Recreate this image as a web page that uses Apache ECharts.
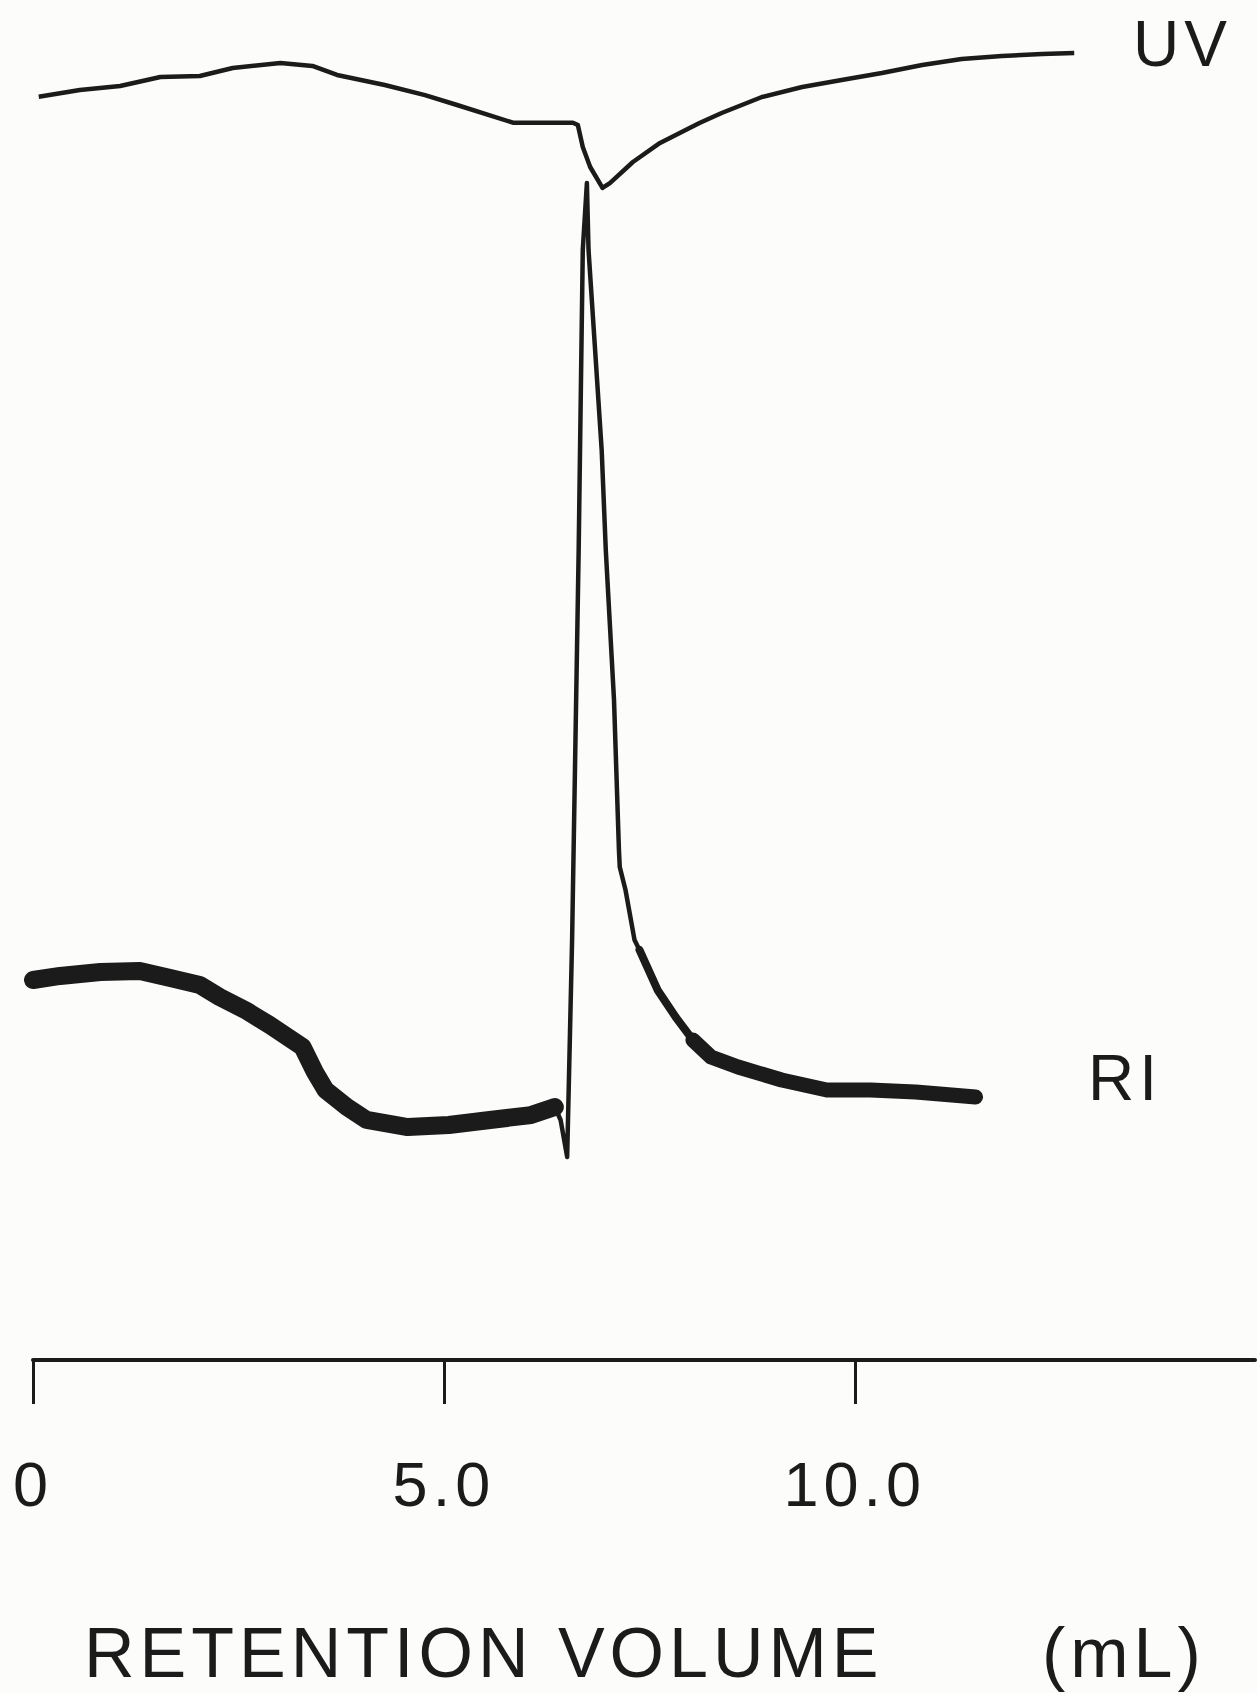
<!DOCTYPE html>
<html>
<head>
<meta charset="utf-8">
<script src="https://cdn.jsdelivr.net/npm/echarts@6/dist/echarts.min.js"></script>
<style>
  html, body { margin: 0; padding: 0; background: #fcfcfa; }
  #main { width: 1257px; height: 1693px; }
  #main text { letter-spacing: 5px; }
</style>
</head>
<body>
<div id="main"></div>
<script>
// retention volume (mL) vs. detector response (arbitrary units, traces offset)
var uvData = [
    [0.07, 92.89], [0.57, 93.38], [1.06, 93.68], [1.55, 94.34], [2.03, 94.41],
    [2.43, 95.00], [3.01, 95.37], [3.40, 95.15], [3.70, 94.49], [4.28, 93.75],
    [4.77, 93.01], [5.16, 92.28], [5.55, 91.54], [5.84, 90.98], [6.57, 90.98],
    [6.63, 90.81], [6.69, 89.19], [6.78, 87.72], [6.93, 86.18], [7.02, 86.54],
    [7.30, 88.09], [7.63, 89.49], [8.11, 90.96], [8.38, 91.69], [8.87, 92.87],
    [9.36, 93.60], [9.84, 94.12], [10.33, 94.63], [10.82, 95.22], [11.30, 95.66],
    [11.79, 95.88], [12.28, 96.03], [12.67, 96.10]
];

// RI baseline before the peak (noisy band)
var riBase = [
    [0.00, 27.94], [0.33, 28.24], [0.82, 28.53], [1.30, 28.60], [1.67, 28.09],
    [2.03, 27.57], [2.27, 26.69], [2.58, 25.74], [2.88, 24.63], [3.28, 23.01],
    [3.43, 21.18], [3.56, 19.85], [3.82, 18.60], [4.06, 17.65], [4.56, 17.13],
    [5.06, 17.28], [5.56, 17.65], [6.06, 18.01], [6.35, 18.60]
];

// RI main peak
var riPeak = [
    [6.35, 18.60], [6.42, 17.65], [6.50, 14.93], [6.56, 30.88], [6.64, 59.56],
    [6.69, 81.62], [6.74, 86.54], [6.76, 81.62], [6.92, 66.91], [6.97, 59.56],
    [7.07, 48.53], [7.13, 37.50], [7.14, 36.25], [7.21, 34.56], [7.32, 30.88],
    [7.38, 30.15]
];

// RI shoulder where the noise starts to show
var riShoulder = [
    [7.38, 30.15], [7.60, 27.21], [7.82, 25.22], [8.03, 23.53]
];

// RI tail after the peak (noisy band)
var riTail = [
    [8.03, 23.53], [8.25, 22.28], [8.58, 21.54], [9.11, 20.59],
    [9.66, 19.85], [10.19, 19.85], [10.74, 19.71], [11.47, 19.34]
];

var tickValues = [0, 5, 10];
var tickLabels = ['0', '5.0', '10.0'];

var ink = '#1b1b1b';
var font = '"Liberation Sans", Arial, sans-serif';

var chart = echarts.init(document.getElementById('main'), null, { renderer: 'svg' });

function riSeries(data, width) {
    return {
        name: 'RI', type: 'line', data: data, showSymbol: false,
        lineStyle: { color: ink, width: width, join: 'round', cap: 'round' }
    };
}

var option = {
    backgroundColor: '#fcfcfa',
    animation: false,
    grid: { left: 33, right: 2, top: 0, bottom: 333 },
    xAxis: {
        type: 'value',
        min: 0,
        max: 14.87,
        splitLine: { show: false },
        axisLine: { lineStyle: { color: ink, width: 4 } },
        axisTick: {
            customValues: tickValues,
            length: 44,
            lineStyle: { color: ink, width: 3 }
        },
        axisLabel: {
            customValues: tickValues,
            margin: 92,
            color: ink,
            fontFamily: font,
            fontSize: 63,
            formatter: function (v) {
                var i = tickValues.indexOf(v);
                return i >= 0 ? tickLabels[i] : '';
            }
        }
    },
    yAxis: {
        type: 'value',
        min: 0,
        max: 100,
        show: false
    },
    graphic: [
        { type: 'text', left: 84, top: 1618, style: { text: 'RETENTION VOLUME', fill: ink, font: '70px ' + font } },
        { type: 'text', left: 1042, top: 1618, style: { text: '(mL)', fill: ink, font: '70px ' + font } },
        { type: 'text', left: 1133, top: 12, style: { text: 'UV', fill: ink, font: '64px ' + font } },
        { type: 'text', left: 1088, top: 1046, style: { text: 'RI', fill: ink, font: '64px ' + font } }
    ],
    series: [
        {
            name: 'UV', type: 'line', data: uvData, showSymbol: false,
            lineStyle: { color: ink, width: 4.5, join: 'round' }
        },
        riSeries(riBase, 18),
        riSeries(riPeak, 4.5),
        riSeries(riShoulder, 8),
        riSeries(riTail, 15)
    ]
};

chart.setOption(option);
</script>
</body>
</html>
